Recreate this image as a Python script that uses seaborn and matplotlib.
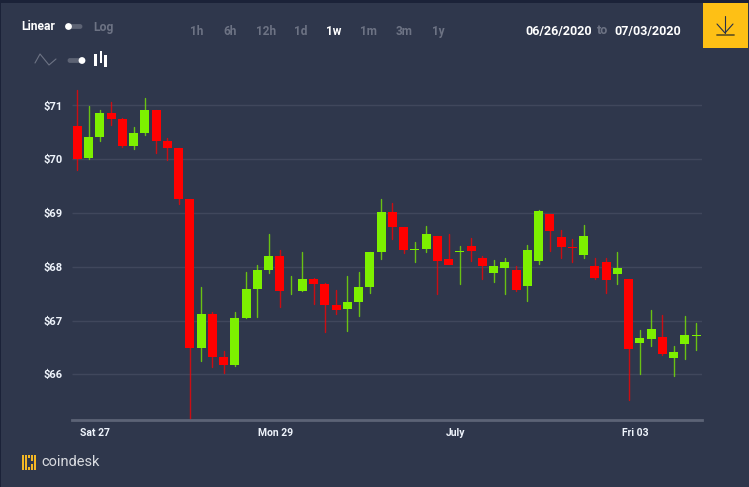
import numpy as np
import pandas as pd
import matplotlib
matplotlib.use("Agg")
import matplotlib.pyplot as plt
from matplotlib.patches import Rectangle, Circle, FancyBboxPatch
import seaborn as sns

# Three-hour candles, 06/26/2020 to 07/03/2020 (USD)
opens = [70.62, 70.03, 70.42, 70.86, 70.75, 70.25, 70.49, 70.91, 70.34, 70.21,
         69.26, 66.49, 67.12, 66.32, 66.17, 67.05, 67.58, 67.94, 68.20, 67.55,
         67.55, 67.78, 67.68, 67.28, 67.21, 67.34, 67.63, 68.28, 69.01, 68.74,
         68.32, 68.33, 68.57, 68.14, 68.27, 68.38, 68.17, 67.89, 67.98, 67.94,
         67.65, 68.10, 68.98, 68.56, 68.36, 68.22, 68.01, 68.09, 67.86, 67.78,
         66.59, 66.66, 66.69, 66.31, 66.56, 66.71]
highs = [71.29, 70.99, 70.91, 71.06, 70.76, 70.59, 71.14, 70.91, 70.39, 70.21,
         69.26, 67.63, 67.16, 66.43, 67.16, 67.90, 68.03, 68.61, 68.31, 67.83,
         68.28, 67.80, 67.69, 67.56, 67.82, 67.90, 68.28, 69.26, 69.18, 68.74,
         68.46, 68.76, 68.57, 68.61, 68.38, 68.53, 68.20, 68.12, 68.17, 68.01,
         68.40, 69.05, 68.99, 68.68, 68.52, 68.77, 68.17, 68.16, 68.27, 67.78,
         66.82, 67.19, 67.11, 66.52, 67.08, 66.95]
lows = [69.80, 70.00, 70.34, 70.63, 70.23, 70.19, 70.45, 70.11, 69.99, 69.17,
        65.16, 66.25, 66.13, 66.02, 66.15, 67.04, 67.06, 67.89, 67.25, 67.50,
        67.54, 67.31, 66.79, 67.13, 66.81, 67.08, 67.52, 68.14, 68.52, 68.25,
        68.09, 68.28, 67.50, 68.05, 67.67, 68.11, 67.77, 67.71, 67.49, 67.54,
        67.37, 68.05, 68.29, 68.17, 68.08, 68.16, 67.78, 67.52, 67.68, 65.52,
        66.01, 66.53, 66.36, 65.96, 66.28, 66.45]
closes = [70.00, 70.42, 70.85, 70.75, 70.24, 70.48, 70.91, 70.34, 70.21, 69.26,
          66.49, 67.12, 66.33, 66.17, 67.05, 67.58, 67.94, 68.20, 67.55, 67.55,
          67.78, 67.68, 67.29, 67.20, 67.34, 67.62, 68.28, 69.01, 68.74, 68.32,
          68.33, 68.61, 68.11, 68.04, 68.29, 68.29, 68.02, 68.01, 68.09, 67.57,
          68.31, 69.03, 68.66, 68.37, 68.34, 68.58, 67.80, 67.76, 67.98, 66.47,
          66.67, 66.84, 66.38, 66.41, 66.73, 66.74]

price_ticks = [66, 67, 68, 69, 70, 71]
price_labels = ["$66", "$67", "$68", "$69", "$70", "$71"]
date_ticks = [1.57, 17.6, 33.6, 49.6]
date_labels = ["Sat 27", "Mon 29", "July", "Fri 03"]
intervals = ["1h", "6h", "12h", "1d", "1w", "1m", "3m", "1y"]
interval_x = [197, 230, 266, 301, 334, 368, 404, 438]

W, H = 749, 487
BG = "#2f374c"
GREEN = "#7df000"
RED = "#ff0000"
GREY = "#6d7384"
FONT = "Roboto"

sns.set_theme(style="dark", rc={"figure.facecolor": BG, "axes.facecolor": BG})
plt.rcParams["font.family"] = [FONT, "DejaVu Sans"]

candles = pd.DataFrame({"slot": np.arange(len(opens)), "open": opens, "high": highs,
                        "low": lows, "close": closes})
candles["side"] = np.where(candles["close"] >= candles["open"], "up", "down")
candles["base"] = candles[["open", "close"]].min(axis=1)
candles["span"] = (candles["close"] - candles["open"]).abs()
wicks = candles.melt(id_vars=["slot", "side"], value_vars=["low", "high"], value_name="price")
palette = {"up": GREEN, "down": RED}

fig = plt.figure(figsize=(W / 100, H / 100), dpi=100, facecolor=BG)
ax = fig.add_axes([72 / W, 1 - 420 / H, 630 / W, 335 / H], facecolor="none")

ax.hlines(price_ticks, -0.47, 55.53, color="#40475c", lw=1, zorder=0)
sns.lineplot(data=wicks, x="slot", y="price", hue="side", units="slot", estimator=None,
             palette=palette, lw=1, alpha=0.75, legend=False, sort=False, ax=ax, zorder=2)
for side, group in candles.groupby("side"):
    ax.bar(group["slot"], group["span"], bottom=group["base"], width=0.8,
           color=palette[side], lw=0, zorder=3)

ax.set_xlim(-0.47, 55.53)
ax.set_ylim(65.15, 71.38)
ax.set_xlabel("")
ax.set_ylabel("")
ax.set_yticks(price_ticks, price_labels)
ax.set_xticks(date_ticks, date_labels)
ax.tick_params(axis="both", length=0, labelcolor="#eef3fb", labelsize=7.5)
ax.tick_params(axis="y", labelsize=8, pad=6.5)
ax.tick_params(axis="x", pad=5.5)
for label in ax.get_xticklabels() + ax.get_yticklabels():
    label.set_fontweight("bold")
for name in ["top", "left", "right"]:
    ax.spines[name].set_visible(False)
ax.spines["bottom"].set_color("#5c6376")
ax.spines["bottom"].set_linewidth(2)
ax.spines["bottom"].set_visible(True)

# Interface controls around the plot, laid out in pixels
ui = fig.add_axes([0, 0, 1, 1], facecolor="none", zorder=5)
ui.set_xlim(0, W)
ui.set_ylim(H, 0)
ui.axis("off")

ui.add_patch(Rectangle((0, 0), W, 3, color="#1b2238", lw=0))
ui.add_patch(Rectangle((0, 0), 1, H, color="#1b2238", lw=0))
ui.add_patch(Rectangle((703, 3), 45, 45, color="#fec015", lw=0))
ui.plot([725, 725], [16, 33], color="#27304a", lw=0.8)
ui.plot([717, 725, 733], [24, 33, 24], color="#27304a", lw=0.8)
ui.plot([717, 734], [34.7, 34.7], color="#6b5a20", lw=1.3)


def label(x, y, s, color="white", ha="left", size=8.7, weight="bold"):
    ui.text(x, y, s, color=color, ha=ha, va="center", fontsize=size, fontweight=weight,
            family=[FONT, "DejaVu Sans"])


def toggle(x0, x1, y, knob):
    ui.add_patch(FancyBboxPatch((x0 + 2, y - 1), x1 - x0 - 4, 2,
                                boxstyle="round,pad=0,rounding_size=1", mutation_scale=1,
                                fc="#5d6374", ec="#5d6374", lw=2))
    ui.add_patch(Circle((knob, y), 3.4, fc="white", ec="none", zorder=4))


label(21.5, 27, "Linear")
toggle(65, 83, 26.5, 68.5)
label(93.5, 27.5, "Log", color=GREY)

for x, s in zip(interval_x, intervals):
    label(x, 31.5, s, color="white" if s == "1w" else GREY, ha="center", size=8.5)

label(525.5, 31, "06/26/2020", size=9)
label(597, 31, "to", color=GREY, size=9)
label(614.5, 31, "07/03/2020", size=9)

ui.plot([35, 40, 49, 56], [63, 54, 65, 59], color="#6d7384", lw=0.8)
toggle(67, 85, 60.5, 82)
for x, w, y0, y1 in [(94, 3, 54, 66), (100, 2, 51, 63), (104, 3, 55, 67)]:
    ui.add_patch(Rectangle((x, y0), w, y1 - y0, color="white", lw=0))

# Logo mark: a square of small dots with an open middle
for gx in [23, 26, 29, 32, 35]:
    for gy in [456.5, 459.5, 462.5, 465.5, 468.5]:
        inner = 26 < gx < 35 and 456.5 < gy < 468.5
        if inner and not (gx == 32 and gy in (459.5, 465.5)):
            continue
        ui.add_patch(Rectangle((gx - 1.2, gy - 1.2), 2.4, 2.4, color="#f4b724", lw=0))
label(41, 462, "coindesk", color="#d9dbe0", size=10.5, weight="normal")

fig.savefig("out.png", dpi=100, facecolor=BG)
